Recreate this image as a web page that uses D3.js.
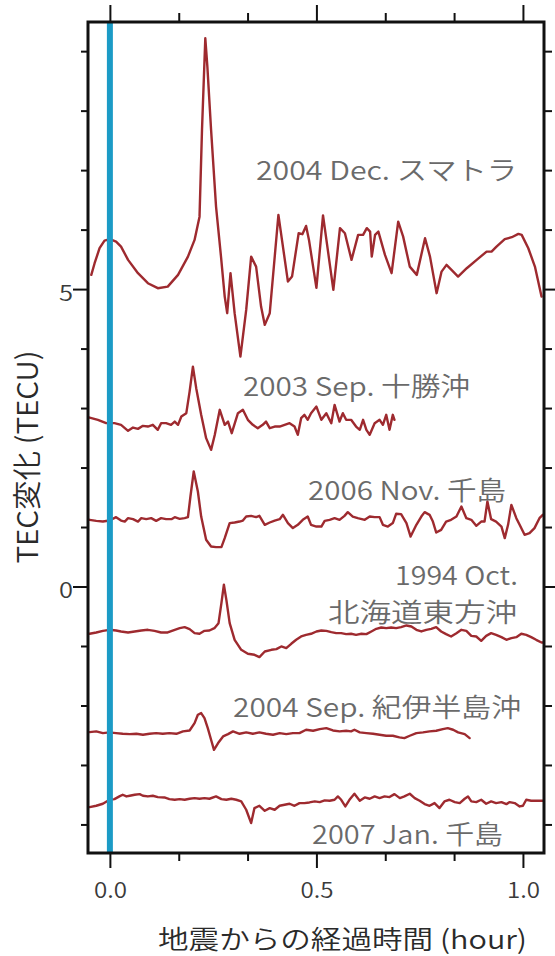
<!DOCTYPE html>
<html><head><meta charset="utf-8">
<script src="https://cdn.jsdelivr.net/npm/d3@7"></script>
<style>body{margin:0;background:#fff}svg{display:block}</style>
</head><body><svg id="c" width="555" height="956"></svg>
<script>
// ---- data: [hours after earthquake, TEC change (TECU)] ----
const sumatra2004 = [[-0.045,5.239],[-0.037,5.435],[-0.025,5.687],[-0.013,5.815],[0.0,5.839],[0.015,5.798],[0.027,5.714],[0.044,5.491],[0.068,5.267],[0.092,5.099],[0.116,5.015],[0.140,5.042],[0.165,5.239],[0.189,5.546],[0.205,5.827],[0.217,6.218],[0.223,7.676],[0.231,9.217],[0.236,8.739],[0.245,7.676],[0.257,6.387],[0.269,5.546],[0.278,4.874],[0.284,4.595],[0.292,5.267],[0.302,4.595],[0.316,3.866],[0.330,4.650],[0.342,5.546],[0.354,5.378],[0.366,4.706],[0.375,4.398],[0.387,4.595],[0.408,6.247],[0.431,5.126],[0.441,5.210],[0.457,5.939],[0.466,5.923],[0.475,6.062],[0.482,5.827],[0.500,5.020],[0.516,6.239],[0.541,4.987],[0.557,6.024],[0.569,5.939],[0.585,5.491],[0.601,5.911],[0.613,5.911],[0.622,6.024],[0.630,5.966],[0.634,5.546],[0.642,5.911],[0.650,5.966],[0.666,5.575],[0.682,5.267],[0.698,6.134],[0.710,5.882],[0.726,5.378],[0.743,5.239],[0.763,5.855],[0.775,5.546],[0.791,4.931],[0.803,5.294],[0.815,5.407],[0.827,5.323],[0.843,5.210],[0.864,5.351],[0.888,5.491],[0.912,5.630],[0.924,5.630],[0.936,5.714],[0.956,5.839],[0.973,5.872],[0.989,5.928],[0.997,5.911],[1.013,5.687],[1.029,5.378],[1.045,4.874]];

const tokachi2003 = [[-0.049,2.840],[-0.029,2.802],[-0.009,2.746],[0.011,2.746],[0.027,2.718],[0.044,2.617],[0.056,2.672],[0.068,2.650],[0.080,2.701],[0.092,2.689],[0.104,2.718],[0.116,2.634],[0.124,2.746],[0.136,2.746],[0.148,2.718],[0.157,2.773],[0.165,2.718],[0.173,2.857],[0.185,2.914],[0.193,3.277],[0.201,3.697],[0.209,3.334],[0.221,2.886],[0.233,2.494],[0.245,2.297],[0.254,2.550],[0.266,2.970],[0.278,2.718],[0.286,2.773],[0.295,2.578],[0.310,2.914],[0.322,2.970],[0.334,2.802],[0.346,2.718],[0.358,2.662],[0.370,2.718],[0.378,2.773],[0.387,2.662],[0.399,2.689],[0.411,2.689],[0.423,2.718],[0.435,2.746],[0.447,2.689],[0.455,2.550],[0.463,2.830],[0.471,2.886],[0.479,2.802],[0.487,2.914],[0.500,3.025],[0.512,2.802],[0.524,2.914],[0.536,2.746],[0.544,3.054],[0.556,2.773],[0.564,2.914],[0.572,2.802],[0.584,2.802],[0.596,2.689],[0.605,2.634],[0.613,2.802],[0.621,2.634],[0.629,2.550],[0.641,2.746],[0.653,2.802],[0.661,2.718],[0.669,2.886],[0.677,2.634],[0.685,2.886],[0.689,2.802]];

const chishima2006 = [[-0.049,1.121],[-0.033,1.104],[-0.017,1.092],[-0.001,1.109],[0.015,1.166],[0.027,1.109],[0.036,1.092],[0.044,1.149],[0.056,1.132],[0.068,1.092],[0.076,1.149],[0.088,1.132],[0.100,1.149],[0.112,1.104],[0.124,1.149],[0.136,1.132],[0.149,1.132],[0.157,1.166],[0.169,1.138],[0.181,1.149],[0.189,1.166],[0.195,1.513],[0.203,1.933],[0.213,1.597],[0.221,1.176],[0.233,0.785],[0.245,0.672],[0.257,0.662],[0.270,0.662],[0.278,0.813],[0.290,1.066],[0.302,1.076],[0.314,1.092],[0.322,1.109],[0.330,1.176],[0.342,1.188],[0.354,1.166],[0.362,1.188],[0.375,1.037],[0.387,1.076],[0.399,1.109],[0.411,1.132],[0.419,1.205],[0.431,1.066],[0.443,0.982],[0.455,1.037],[0.467,1.121],[0.479,1.176],[0.487,1.037],[0.500,1.008],[0.512,1.008],[0.520,1.104],[0.532,1.121],[0.544,1.149],[0.556,1.121],[0.568,1.188],[0.576,1.250],[0.588,1.176],[0.600,1.149],[0.617,1.121],[0.629,1.176],[0.641,1.166],[0.653,1.166],[0.661,1.037],[0.673,1.008],[0.685,1.066],[0.693,1.222],[0.705,1.217],[0.718,1.066],[0.728,0.840],[0.742,1.037],[0.754,1.176],[0.762,1.250],[0.774,1.205],[0.782,1.092],[0.790,0.908],[0.802,0.953],[0.814,1.092],[0.826,1.121],[0.839,1.176],[0.851,1.345],[0.863,1.149],[0.875,1.121],[0.887,1.020],[0.899,1.092],[0.907,1.092],[0.914,1.429],[0.923,1.132],[0.935,1.092],[0.948,1.008],[0.956,0.813],[0.964,1.037],[0.972,1.373],[0.984,1.149],[0.992,1.037],[1.004,0.869],[1.016,0.897],[1.028,0.982],[1.040,1.149],[1.048,1.205]];

const hokkaido1994 = [[-0.049,-0.795],[-0.033,-0.773],[-0.017,-0.745],[-0.001,-0.728],[0.015,-0.739],[0.027,-0.756],[0.044,-0.773],[0.060,-0.756],[0.076,-0.739],[0.092,-0.728],[0.108,-0.745],[0.124,-0.773],[0.140,-0.773],[0.157,-0.728],[0.169,-0.700],[0.181,-0.683],[0.193,-0.716],[0.205,-0.784],[0.217,-0.795],[0.229,-0.745],[0.241,-0.739],[0.253,-0.700],[0.263,-0.616],[0.270,-0.280],[0.276,0.029],[0.282,-0.224],[0.290,-0.616],[0.302,-0.896],[0.318,-1.064],[0.334,-1.131],[0.350,-1.148],[0.362,-1.187],[0.375,-1.092],[0.391,-1.064],[0.403,-1.053],[0.415,-1.008],[0.427,-1.036],[0.439,-0.963],[0.451,-0.896],[0.463,-0.840],[0.475,-0.812],[0.487,-0.795],[0.500,-0.756],[0.512,-0.739],[0.524,-0.745],[0.536,-0.767],[0.548,-0.784],[0.560,-0.784],[0.572,-0.801],[0.584,-0.795],[0.596,-0.812],[0.609,-0.795],[0.621,-0.801],[0.633,-0.756],[0.645,-0.711],[0.657,-0.689],[0.669,-0.700],[0.681,-0.689],[0.693,-0.700],[0.705,-0.683],[0.718,-0.655],[0.730,-0.672],[0.742,-0.728],[0.754,-0.756],[0.766,-0.728],[0.778,-0.711],[0.790,-0.683],[0.802,-0.756],[0.814,-0.801],[0.826,-0.840],[0.839,-0.784],[0.851,-0.728],[0.863,-0.745],[0.875,-0.829],[0.887,-0.840],[0.899,-0.913],[0.911,-0.829],[0.923,-0.784],[0.935,-0.812],[0.948,-0.851],[0.960,-0.896],[0.972,-0.868],[0.984,-0.851],[0.996,-0.795],[1.008,-0.812],[1.020,-0.851],[1.032,-0.896],[1.045,-0.941],[1.048,-0.941]];

const kii2004 = [[-0.049,-2.448],[-0.033,-2.436],[-0.017,-2.464],[-0.001,-2.453],[0.015,-2.464],[0.031,-2.476],[0.048,-2.481],[0.064,-2.476],[0.080,-2.492],[0.096,-2.476],[0.112,-2.464],[0.128,-2.476],[0.144,-2.464],[0.161,-2.476],[0.177,-2.436],[0.193,-2.420],[0.205,-2.296],[0.213,-2.156],[0.221,-2.128],[0.229,-2.212],[0.237,-2.380],[0.245,-2.576],[0.252,-2.745],[0.262,-2.632],[0.274,-2.520],[0.286,-2.481],[0.298,-2.436],[0.314,-2.476],[0.330,-2.453],[0.346,-2.476],[0.362,-2.453],[0.378,-2.476],[0.395,-2.492],[0.411,-2.464],[0.427,-2.481],[0.443,-2.464],[0.459,-2.464],[0.475,-2.408],[0.492,-2.425],[0.508,-2.397],[0.524,-2.380],[0.540,-2.420],[0.556,-2.436],[0.572,-2.425],[0.584,-2.436],[0.592,-2.408],[0.605,-2.453],[0.621,-2.464],[0.637,-2.476],[0.653,-2.492],[0.669,-2.509],[0.685,-2.509],[0.701,-2.537],[0.713,-2.548],[0.726,-2.509],[0.742,-2.464],[0.758,-2.453],[0.774,-2.436],[0.790,-2.425],[0.806,-2.397],[0.818,-2.380],[0.831,-2.408],[0.843,-2.453],[0.859,-2.481],[0.871,-2.548]];

const chishima2007 = [[-0.049,-3.708],[-0.033,-3.686],[-0.017,-3.652],[-0.001,-3.585],[0.011,-3.574],[0.023,-3.529],[0.031,-3.501],[0.040,-3.529],[0.048,-3.518],[0.060,-3.501],[0.072,-3.490],[0.080,-3.518],[0.092,-3.529],[0.104,-3.518],[0.116,-3.540],[0.132,-3.546],[0.144,-3.574],[0.157,-3.585],[0.169,-3.574],[0.181,-3.585],[0.193,-3.568],[0.205,-3.557],[0.217,-3.568],[0.229,-3.557],[0.241,-3.568],[0.257,-3.529],[0.270,-3.574],[0.282,-3.585],[0.294,-3.568],[0.306,-3.585],[0.318,-3.613],[0.330,-3.753],[0.342,-3.977],[0.350,-3.725],[0.362,-3.686],[0.375,-3.770],[0.387,-3.725],[0.399,-3.753],[0.411,-3.686],[0.423,-3.669],[0.435,-3.652],[0.447,-3.686],[0.459,-3.641],[0.471,-3.641],[0.483,-3.630],[0.496,-3.613],[0.508,-3.624],[0.520,-3.596],[0.532,-3.602],[0.544,-3.585],[0.552,-3.529],[0.560,-3.585],[0.570,-3.697],[0.580,-3.585],[0.592,-3.484],[0.605,-3.602],[0.617,-3.546],[0.629,-3.568],[0.641,-3.529],[0.653,-3.557],[0.665,-3.529],[0.677,-3.540],[0.689,-3.490],[0.702,-3.557],[0.713,-3.529],[0.726,-3.484],[0.738,-3.557],[0.750,-3.602],[0.762,-3.658],[0.774,-3.686],[0.786,-3.641],[0.798,-3.725],[0.810,-3.613],[0.822,-3.585],[0.835,-3.624],[0.847,-3.641],[0.859,-3.568],[0.867,-3.529],[0.875,-3.613],[0.887,-3.624],[0.899,-3.585],[0.911,-3.652],[0.923,-3.613],[0.935,-3.641],[0.948,-3.624],[0.960,-3.658],[0.968,-3.624],[0.980,-3.641],[0.992,-3.697],[1.000,-3.686],[1.008,-3.585],[1.020,-3.602],[1.033,-3.602],[1.048,-3.602]];

const seriesList = [sumatra2004, tokachi2003, chishima2006, hokkaido1994, kii2004, chishima2007];
const eventLabels = ["2004 Dec. スマトラ", "2003 Sep. 十勝沖", "2006 Nov. 千島", "1994 Oct.", "北海道東方沖", "2004 Sep. 紀伊半島沖", "2007 Jan. 千島"];
const xMajorTicks = [0, 0.5, 1.0];
const xTickLabels = ["0.0", "0.5", "1.0"];
const xMinorTicks = [0.1667, 0.3333, 0.6667, 0.8333];
const yMajorTicks = [0, 5];
const yTickLabels = ["0", "5"];
const yMinorTicks = [-4, -3, -2, -1, 1, 2, 3, 4, 6, 7, 8, 9];
const xTitle = "地震からの経過時間 (hour)";
const yTitle = "TEC変化 (TECU)";
const quakeTime = 0;

// ---- layout ----
const FONT = "'Noto Sans CJK JP','Noto Sans',sans-serif";
const L = 88, R = 544, T = 22, B = 853;
const svg = d3.select("#c").style("font-family", FONT).style("font-weight", 350);
const x = d3.scaleLinear().domain([-0.053, 1.051]).range([L, R]);
const y = d3.scaleLinear().domain([-4.48, 9.49]).range([B, T]);

function stretch(sel, len) {
  sel.attr("textLength", len).attr("lengthAdjust", "spacingAndGlyphs");
}

// curves
const line = d3.line().x(d => x(d[0])).y(d => y(d[1]));
svg.append("g").selectAll("path").data(seriesList).join("path")
  .attr("d", line).attr("fill", "none").attr("stroke", "#9e2a2f")
  .attr("stroke-width", 2.4).attr("stroke-linejoin", "round").attr("stroke-linecap", "round");

// earthquake time marker
svg.append("line").attr("x1", x(quakeTime)).attr("x2", x(quakeTime))
  .attr("y1", T).attr("y2", B).attr("stroke", "#1b9bc6").attr("stroke-width", 6);

// axes
function styleAxis(g) {
  g.select(".domain").remove();
  g.selectAll(".tick line").attr("stroke", "#111").attr("stroke-width", 2);
}
svg.append("g").attr("transform", `translate(0,${T})`)
  .call(d3.axisTop(x).tickValues(xMinorTicks).tickSize(9).tickFormat("")).call(styleAxis);
svg.append("g").attr("transform", `translate(0,${T})`)
  .call(d3.axisTop(x).tickValues(xMajorTicks).tickSize(17).tickFormat("")).call(styleAxis);
svg.append("g").attr("transform", `translate(0,${B})`)
  .call(d3.axisBottom(x).tickValues(xMinorTicks).tickSize(8).tickFormat("")).call(styleAxis);
const xb = svg.append("g").attr("transform", `translate(0,${B})`)
  .call(d3.axisBottom(x).tickValues(xMajorTicks).tickSize(15).tickFormat((d, i) => xTickLabels[i])).call(styleAxis);
xb.selectAll("text").attr("y", 35).attr("dy", null).attr("dominant-baseline", "central")
  .attr("font-size", 22).attr("fill", "#3a3a3a").attr("font-family", FONT).attr("font-weight", 350).call(stretch, 33);

svg.append("g").attr("transform", `translate(${L},0)`)
  .call(d3.axisLeft(y).tickValues(yMinorTicks).tickSize(7).tickFormat("")).call(styleAxis);
const yl = svg.append("g").attr("transform", `translate(${L},0)`)
  .call(d3.axisLeft(y).tickValues(yMajorTicks).tickSize(15).tickFormat((d, i) => yTickLabels[i])).call(styleAxis);
yl.selectAll("text").attr("x", -15).attr("dy", null).attr("y", 1).attr("dominant-baseline", "central")
  .attr("font-size", 22).attr("fill", "#3a3a3a").attr("font-family", FONT).attr("font-weight", 350).call(stretch, 14);
svg.append("g").attr("transform", `translate(${R},0)`)
  .call(d3.axisRight(y).tickValues(yMinorTicks).tickSize(8).tickFormat("")).call(styleAxis);
svg.append("g").attr("transform", `translate(${R},0)`)
  .call(d3.axisRight(y).tickValues(yMajorTicks).tickSize(12).tickFormat("")).call(styleAxis);

// frame
svg.append("rect").attr("x", L).attr("y", T).attr("width", R - L).attr("height", B - T)
  .attr("fill", "none").attr("stroke", "#111").attr("stroke-width", 3);

// event labels (anchor, x, y center, length)
const labelLayout = [
  ["start", 256, 168, 261],
  ["start", 243, 384, 227],
  ["start", 308, 488, 198],
  ["end", 518, 573, 123],
  ["end", 517, 610, 189],
  ["start", 233, 705, 288],
  ["start", 312, 832, 191]
];
eventLabels.forEach((s, i) => {
  const [a, lx, ly, len] = labelLayout[i];
  svg.append("text").attr("x", lx).attr("y", ly).attr("text-anchor", a)
    .attr("dominant-baseline", "central").attr("font-size", 26).attr("fill", "#6a6a6a")
    .text(s).call(stretch, len);
});

// axis titles
svg.append("text").attr("x", 158).attr("y", 937).attr("dominant-baseline", "central")
  .attr("font-size", 26).attr("fill", "#2a2a2a").text(xTitle).call(stretch, 369);
svg.append("text").attr("transform", "translate(25,457) rotate(-90)")
  .attr("text-anchor", "middle").attr("dominant-baseline", "central")
  .attr("font-size", 29).attr("fill", "#2a2a2a").text(yTitle).call(stretch, 213);
</script>
</body></html>
